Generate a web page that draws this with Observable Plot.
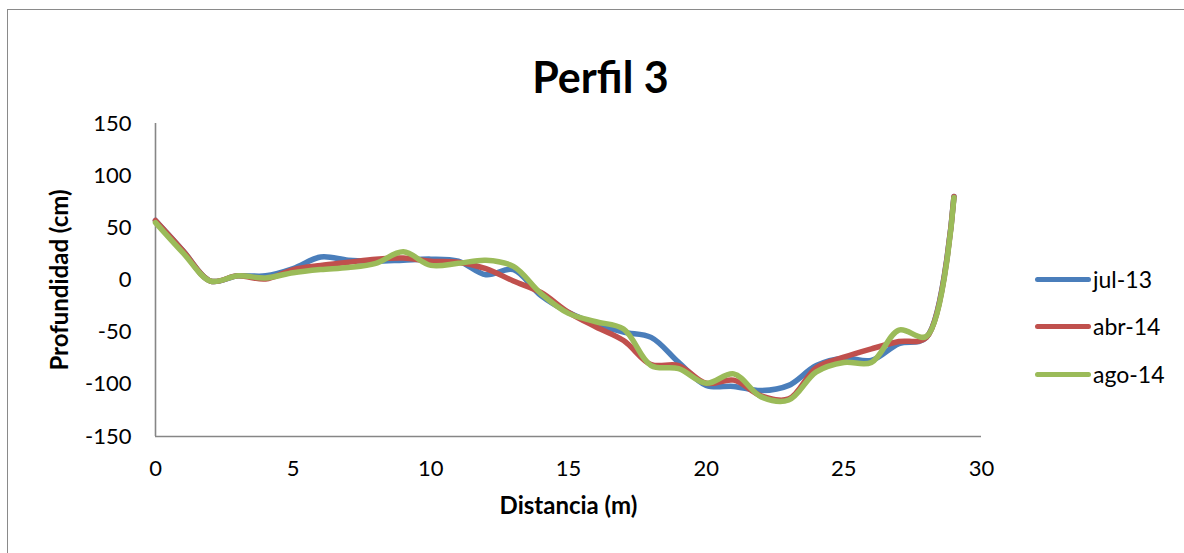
<!DOCTYPE html>
<html>
<head>
<meta charset="utf-8">
<script src="https://cdn.jsdelivr.net/npm/d3@7"></script>
<script src="https://cdn.jsdelivr.net/npm/@observablehq/plot@0.6"></script>
<style>
  html, body { margin: 0; padding: 0; background: #fff; }
  #wrap { position: relative; width: 1184px; height: 553px; overflow: hidden; font-family: Lato, "Liberation Sans", sans-serif; }
  #frame { position: absolute; left: 7px; top: 9px; width: 1300px; height: 700px; border: 1.5px solid #8a8a8a; box-sizing: border-box; }
  #chart { position: absolute; left: 0; top: 0; }
  #legend { position: absolute; left: 1035px; top: 0; }
  .item { position: absolute; left: 0; display: flex; align-items: center; white-space: nowrap; }
  .swatch { width: 56px; height: 5px; border-radius: 3px; }
  .label { margin-left: 2px; font-size: 23px; color: #000; }
</style>
</head>
<body>
<div id="wrap">
  <div id="frame"></div>
  <div id="chart"></div>
  <div id="legend"></div>
</div>
<script>
// Cross-section depth readings every metre along profile 3
const distancia = [0, 1, 2, 3, 4, 5, 6, 7, 8, 9, 10, 11, 12, 13, 14, 15, 16, 17, 18, 19, 20, 21, 22, 23, 24, 25, 26, 27, 28, 29];
const jul13 = [57, 28, -1, 4, 4, 11, 22, 19, 18, 19, 20, 18, 5, 10, -15, -31, -42, -50, -55, -79, -101, -102, -106, -101, -82, -75, -77, -61, -55, 80];
const abr14 = [57, 28, -1, 4, 1, 10, 14, 17, 20, 21, 18, 17, 11, -1, -12, -31, -45, -58, -81, -82, -99, -96, -111, -114, -84, -74, -66, -59, -55, 80];
const ago14 = [55, 26, -1, 4, 2, 7, 10, 12, 16, 27, 14, 16, 19, 13, -13, -32, -40, -47, -82, -85, -99, -90, -112, -115, -88, -79, -79, -48, -54, 79];

const seriesNames = ["jul-13", "abr-14", "ago-14"];
const seriesColors = ["#4a7ebb", "#c0504d", "#9bbb59"];
const seriesValues = [jul13, abr14, ago14];

const yTicks = [-150, -100, -50, 0, 50, 100, 150];
const xTicks = [0, 5, 10, 15, 20, 25, 30];

const rows = seriesNames.flatMap((name, s) =>
  distancia.map((d, i) => ({serie: name, distancia: d, profundidad: seriesValues[s][i]}))
);

const chart = Plot.plot({
  width: 1184,
  height: 553,
  marginLeft: 155,
  marginRight: 203,
  marginTop: 123,
  marginBottom: 117,
  style: {fontFamily: "Lato, 'Liberation Sans', sans-serif", color: "#000", background: "transparent", overflow: "visible"},
  x: {domain: [0, 30]},
  y: {domain: [-150, 150]},
  color: {domain: seriesNames, range: seriesColors},
  marks: [
    Plot.axisY({ticks: yTicks, tickSize: 0, tickPadding: 24, fontSize: 22, tickFormat: d => String(d), label: null}),
    Plot.axisX({ticks: xTicks, tickSize: 0, tickPadding: 24, fontSize: 22, tickFormat: d => String(d), label: null}),
    Plot.ruleX([0], {stroke: "#868686", strokeWidth: 1.6}),
    Plot.ruleY([-150], {stroke: "#868686", strokeWidth: 1.6}),
    Plot.line(rows, {
      x: "distancia", y: "profundidad", z: "serie", stroke: "serie",
      strokeWidth: 5.5, curve: "catmull-rom", strokeLinecap: "round", strokeLinejoin: "round"
    }),
    Plot.text(["Perfil 3"], {frameAnchor: "top", dx: 32, dy: -61, fontSize: 43, fontWeight: "bold"}),
    Plot.text(["Profundidad (cm)"], {frameAnchor: "left", textAnchor: "middle", dx: -95, rotate: -90, fontSize: 24, fontWeight: "bold"}),
    Plot.text(["Distancia (m)"], {frameAnchor: "bottom", dy: 77, fontSize: 24, fontWeight: "bold"})
  ]
});
document.getElementById("chart").appendChild(chart);

// Legend entries to the right of the plot
const legend = document.getElementById("legend");
const legendTops = [279, 326, 374];
seriesNames.forEach((name, i) => {
  const item = document.createElement("div");
  item.className = "item";
  item.style.top = (legendTops[i] - 14) + "px";
  item.style.height = "28px";
  const sw = document.createElement("div");
  sw.className = "swatch";
  sw.style.background = seriesColors[i];
  const lb = document.createElement("span");
  lb.className = "label";
  lb.textContent = name;
  item.appendChild(sw);
  item.appendChild(lb);
  legend.appendChild(item);
});
</script>
</body>
</html>
